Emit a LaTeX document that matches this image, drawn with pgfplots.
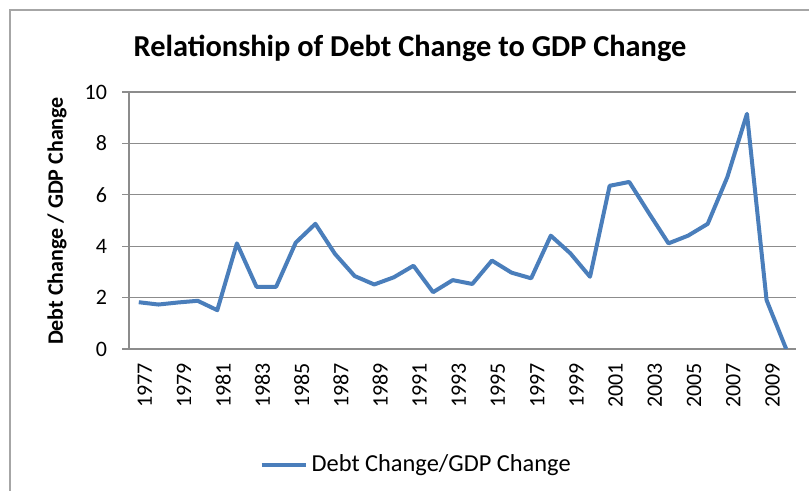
\documentclass[border=0pt]{standalone}
\usepackage{fontspec}
\setmainfont{Carlito}
\usepackage{pgfplots}
\pgfplotsset{compat=1.18}
\definecolor{serblue}{HTML}{4A7EBB}
\definecolor{gridgray}{HTML}{8C8C8C}
\definecolor{bordergray}{HTML}{A6A6A6}
\begin{document}
\begin{tikzpicture}
\useasboundingbox (0,0) rectangle (404.5pt,245.5pt);
\draw[bordergray, line width=0.8pt] (5pt,-1pt) -- (5pt,240.5pt) -- (406pt,240.5pt);
\begin{axis}[
  at={(64.5pt,71pt)}, anchor=south west,
  scale only axis, width=333.5pt, height=128.5pt,
  xmin=1976.5, xmax=2010.5, ymin=0, ymax=10,
  axis lines=left, axis line style={-, gridgray, line width=0.6pt},
  tick align=outside,
  xtick={1977,1979,...,2009},
  major x tick style={draw=none},
  extra x ticks={1976.5,1977.5,...,2010.5},
  extra x tick labels={},
  extra x tick style={major tick length=3pt, tick style={gridgray, line width=0.6pt}, grid=none},
  ytick={0,2,...,10},
  ymajorgrids, grid style={gridgray, line width=0.6pt},
  major tick length=3.5pt,
  tick style={gridgray, line width=0.6pt},
  xticklabel style={rotate=90, anchor=east, yshift=-3pt, font=\fontsize{11}{13}\selectfont, /pgf/number format/1000 sep={}},
  yticklabel style={xshift=-4pt, font=\fontsize{11}{13}\selectfont},
  /pgf/number format/assume math mode=true,
  /pgf/number format/1000 sep={},
  legend style={at={(0.432,-0.451)}, anchor=center, draw=none, font=\fontsize{12.2}{14}\selectfont, legend cell align=left, inner sep=1pt},
  legend image code/.code={\draw[#1] (0pt,0pt) -- (22pt,0pt);},
]
\addplot[serblue, line width=2pt, line join=round] coordinates {
(1977,1.82) (1978,1.73) (1979,1.81) (1980,1.875) (1981,1.51)
(1982,4.11) (1983,2.42) (1984,2.42) (1985,4.14) (1986,4.87)
(1987,3.70) (1988,2.84) (1989,2.51) (1990,2.79) (1991,3.24)
(1992,2.21) (1993,2.68) (1994,2.53) (1995,3.44) (1996,2.97)
(1997,2.75) (1998,4.41) (1999,3.72) (2000,2.81) (2001,6.35)
(2002,6.50) (2003,5.29) (2004,4.11) (2005,4.41) (2006,4.87)
(2007,6.69) (2008,9.15) (2009,1.90) (2010,0)
};
\addlegendentry{Debt Change/GDP Change}
\end{axis}
\node[font=\bfseries\fontsize{15.2}{18}\selectfont, anchor=base] at (205pt,217pt) {Relationship of Debt Change to GDP Change};
\node[rotate=90, font=\bfseries\fontsize{11}{13}\selectfont] at (28.5pt,135pt) {Debt Change / GDP Change};
\end{tikzpicture}
\end{document}
